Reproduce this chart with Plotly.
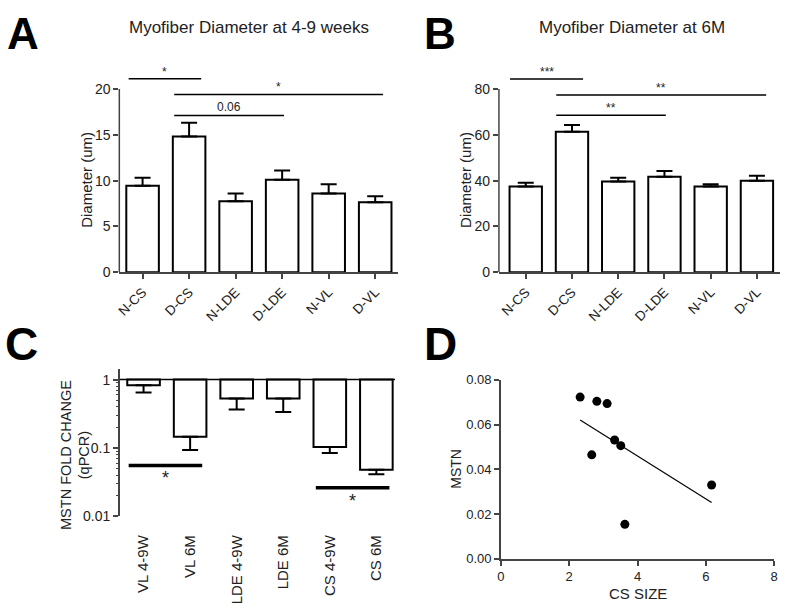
import plotly.graph_objects as go
import numpy as np

W, H = 788, 610

# ---------------- data ----------------
cats_AB = ["N-CS", "D-CS", "N-LDE", "D-LDE", "N-VL", "D-VL"]
diam_4_9w = [9.45, 14.8, 7.75, 10.1, 8.6, 7.65]
diam_4_9w_err = [0.85, 1.5, 0.85, 1.0, 1.0, 0.65]
diam_6m = [37.4, 61.3, 39.6, 41.7, 37.4, 40.0]
diam_6m_err = [1.7, 3.0, 1.7, 2.5, 1.0, 2.1]

cats_C = ["VL 4-9W", "VL 6M", "LDE 4-9W", "LDE 6M", "CS 4-9W", "CS 6M"]
mstn_fold = [0.83, 0.145, 0.53, 0.53, 0.103, 0.048]
mstn_fold_lower = [0.65, 0.093, 0.365, 0.334, 0.084, 0.041]

cs_size = [2.32, 2.81, 3.11, 2.66, 3.33, 3.51, 3.63, 6.17]
mstn_level = [0.0723, 0.0704, 0.0694, 0.0465, 0.0531, 0.0506, 0.0154, 0.033]

# significance brackets: (start index, end index, height, label)
sig_A = [(-0.3, 1.26, 21.1, "*"), (0.68, 5.17, 19.4, "*"), (0.68, 3.04, 17.1, "0.06")]
sig_B = [(-0.34, 1.24, 84.3, "***"), (0.66, 5.2, 77.4, "**"), (0.66, 3.03, 68.5, "**")]
sig_C = [(-0.32, 1.26, 0.0553, "*"), (3.7, 5.28, 0.026, "*")]

FONT = "Liberation Sans, Arial, sans-serif"
TXT = "#222222"
AX = "#444444"


def fx(p):
    return p / W


def fy(p):
    return 1 - p / H


fig = go.Figure()

# ---- Panel A ----
fig.add_trace(go.Bar(x=cats_AB, y=diam_4_9w, width=0.7,
                     marker=dict(color="white", line=dict(color="black", width=2)),
                     xaxis="x", yaxis="y", showlegend=False))
fig.add_trace(go.Scatter(x=cats_AB, y=diam_4_9w, mode="markers",
                         marker=dict(size=1, color="rgba(0,0,0,0)"),
                         error_y=dict(type="data", symmetric=False, array=diam_4_9w_err,
                                      arrayminus=[0] * 6, width=8, thickness=2, color="black"),
                         xaxis="x", yaxis="y", showlegend=False))
# ---- Panel B ----
fig.add_trace(go.Bar(x=cats_AB, y=diam_6m, width=0.7,
                     marker=dict(color="white", line=dict(color="black", width=2)),
                     xaxis="x2", yaxis="y2", showlegend=False))
fig.add_trace(go.Scatter(x=cats_AB, y=diam_6m, mode="markers",
                         marker=dict(size=1, color="rgba(0,0,0,0)"),
                         error_y=dict(type="data", symmetric=False, array=diam_6m_err,
                                      arrayminus=[0] * 6, width=8, thickness=2, color="black"),
                         xaxis="x2", yaxis="y2", showlegend=False))
# ---- Panel C ----
fig.add_trace(go.Bar(x=cats_C, y=[1 - v for v in mstn_fold], base=mstn_fold, width=0.7,
                     marker=dict(color="white", line=dict(color="black", width=2)),
                     xaxis="x3", yaxis="y3", showlegend=False))
fig.add_trace(go.Scatter(x=cats_C, y=mstn_fold, mode="markers",
                         marker=dict(size=1, color="rgba(0,0,0,0)"),
                         error_y=dict(type="data", symmetric=False, array=[0] * 6,
                                      arrayminus=[v - lo for v, lo in zip(mstn_fold, mstn_fold_lower)],
                                      width=8, thickness=2, color="black"),
                         xaxis="x3", yaxis="y3", showlegend=False))
# ---- Panel D ----
slope, intercept = np.polyfit(cs_size, mstn_level, 1)
xfit = [min(cs_size), max(cs_size)]
fig.add_trace(go.Scatter(x=xfit, y=[slope * v + intercept for v in xfit], mode="lines",
                         line=dict(color="black", width=1.2),
                         xaxis="x4", yaxis="y4", showlegend=False))
fig.add_trace(go.Scatter(x=cs_size, y=mstn_level, mode="markers",
                         marker=dict(color="black", size=9),
                         xaxis="x4", yaxis="y4", showlegend=False))

shapes = []
annotations = []


def add_sig(sigs, xref, yref, below=False, width=1.5, fsize=12, ylog=False):
    for x0, x1, h, lab in sigs:
        shapes.append(dict(type="line", xref=xref, yref=yref, x0=x0, x1=x1, y0=h, y1=h,
                           line=dict(color="black", width=width)))
        annotations.append(dict(xref=xref, yref=yref, x=(x0 + x1) / 2,
                                y=np.log10(h) if ylog else h,
                                text=lab, showarrow=False, xanchor="center",
                                yanchor="top" if below else "bottom",
                                yshift=-1 if below else (-2 if lab.startswith("*") else 0),
                                font=dict(family=FONT, size=fsize, color=TXT)))


add_sig(sig_A, "x", "y")
add_sig(sig_B, "x2", "y2")
add_sig(sig_C, "x3", "y3", below=True, width=3.5, fsize=18, ylog=True)

# y-axis lines for A and B (stop at top tick)
shapes.append(dict(type="line", xref="x domain", yref="y", x0=0, x1=0, y0=0, y1=20,
                   line=dict(color=AX, width=1.5)))
shapes.append(dict(type="line", xref="x2 domain", yref="y2", x0=0, x1=0, y0=0, y1=80,
                   line=dict(color=AX, width=1.5)))
# baseline at fold change 1 in C
shapes.append(dict(type="line", xref="x3 domain", yref="y3", x0=0, x1=1, y0=1, y1=1,
                   line=dict(color="black", width=1.5)))


def label(text, x, y, size, angle=0, color=TXT, yanchor="middle"):
    annotations.append(dict(xref="paper", yref="paper", x=fx(x), y=fy(y), text=text,
                            showarrow=False, xanchor="center", yanchor=yanchor,
                            textangle=angle, font=dict(family=FONT, size=size, color=color)))


# panel letters
label("<b>A</b>", 19, 0, 44, color="black", yanchor="top")
label("<b>B</b>", 440, 0, 44, color="black", yanchor="top")
label("<b>C</b>", 18, 345, 46, color="black")
label("<b>D</b>", 441, 345, 46, color="black")
# titles and axis titles
label("Myofiber Diameter at 4-9 weeks", 248, 21, 17)
label("Myofiber Diameter at 6M", 634, 21, 17)
label("Diameter (um)", 83, 177, 15, -90)
label("Diameter (um)", 466, 177, 15, -90)
label("MSTN FOLD CHANGE<br>(qPCR)", 72, 459, 14.5, -90)
label("MSTN", 457, 473, 14, -90)
label("CS SIZE", 641, 601, 15)

tickfont = dict(family=FONT, size=14, color=TXT)
common_x = dict(showline=True, linecolor=AX, linewidth=1.5, ticks="outside", ticklen=5,
                tickwidth=1.5, tickcolor=AX, showgrid=False, zeroline=False, tickangle=-45,
                tickfont=dict(family=FONT, size=13.5, color=TXT), fixedrange=True)
common_y = dict(ticks="outside", ticklen=5, tickwidth=1.5, tickcolor=AX,
                showgrid=False, zeroline=False, tickfont=tickfont, fixedrange=True)

fig.update_layout(
    width=W, height=H, margin=dict(l=0, r=0, t=0, b=0),
    paper_bgcolor="white", plot_bgcolor="white",
    font=dict(family=FONT, color=TXT),
    bargap=0.3,
    xaxis=dict(domain=[fx(116.5), fx(398.5)], range=[-0.5, 5.5], anchor="y", **common_x),
    yaxis=dict(domain=[fy(272), fy(55.8)], range=[0, 23], anchor="x", showline=False,
               tickvals=[0, 5, 10, 15, 20], **common_y),
    xaxis2=dict(domain=[fx(500), fx(784)], range=[-0.58, 5.5], anchor="y2", **common_x),
    yaxis2=dict(domain=[fy(272), fy(55.8)], range=[0, 92], anchor="x2", showline=False,
                tickvals=[0, 20, 40, 60, 80], **common_y),
    xaxis3=dict(domain=[fx(117), fx(395)], range=[-0.51, 5.4], anchor="y3", showline=False,
                ticks="", tickangle=-90, ticklabelstandoff=15, showgrid=False, zeroline=False,
                tickfont=dict(family=FONT, size=15, color=TXT), fixedrange=True),
    yaxis3=dict(domain=[fy(522), fy(371.5)], type="log", range=[-2, 0.15], anchor="x3",
                showline=True, linecolor=AX, linewidth=1.5,
                tickvals=[0.01, 0.1, 1], ticktext=["0.01", "0.1", "1"],
                minor=dict(tickvals=[k * 10 ** e for e in (-2, -1) for k in range(2, 10)],
                           ticks="outside", ticklen=2.5, tickcolor=AX, tickwidth=1),
                **common_y),
    xaxis4=dict(domain=[fx(502), fx(778)], range=[0, 8], anchor="y4", showline=True,
                linecolor=AX, linewidth=1.5, ticks="outside", ticklen=5, tickwidth=1.5,
                tickcolor=AX, showgrid=False, zeroline=False, tickvals=[0, 2, 4, 6, 8],
                ticklabeloverflow="allow",
                tickfont=dict(family=FONT, size=13, color=TXT), fixedrange=True),
    yaxis4=dict(domain=[fy(565.7), fy(382.3)], range=[0, 0.08], anchor="x4", showline=True,
                linecolor=AX, linewidth=1.5, ticks="outside", ticklen=5, tickwidth=1.5,
                tickcolor=AX, showgrid=False, zeroline=False,
                tickvals=[0, 0.02, 0.04, 0.06, 0.08], tickformat=".2f",
                tickfont=dict(family=FONT, size=13, color=TXT), fixedrange=True),
    shapes=shapes,
    annotations=annotations,
)

fig.write_html("out.html", config={"displayModeBar": False},
               post_script="document.body.style.margin='0';document.body.style.padding='0';")
